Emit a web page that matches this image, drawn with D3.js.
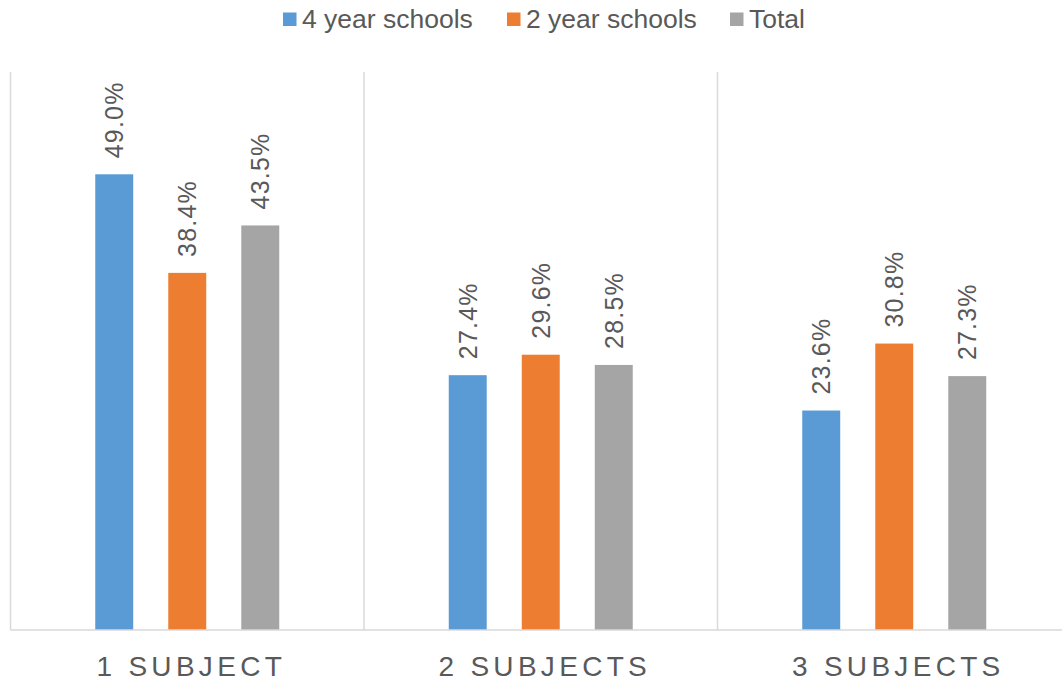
<!DOCTYPE html>
<html><head><meta charset="utf-8">
<script src="https://cdn.jsdelivr.net/npm/d3@7/dist/d3.min.js"></script>
<style>body{margin:0;background:#fff}svg{display:block}</style>
</head><body><svg id="c" width="1062" height="681"></svg>
<script>
const categories = ["1 SUBJECT", "2 SUBJECTS", "3 SUBJECTS"];
const seriesNames = ["4 year schools", "2 year schools", "Total"];
const fourYear = [0.490, 0.274, 0.236];
const twoYear = [0.384, 0.296, 0.308];
const total = [0.435, 0.285, 0.273];
const colors = ["#5b9bd5", "#ed7d31", "#a5a5a5"];

const svg = d3.select("#c");
const font = "'Liberation Sans', Arial, sans-serif";
const textColor = "#595959";
const plotLeft = 10.5, plotRight = 1071, plotTop = 72, plotBottom = 630;

const x0 = d3.scaleBand().domain(categories).range([plotLeft, plotRight]).paddingInner(0).paddingOuter(0);
const x1 = d3.scaleBand().domain(seriesNames).range([x0.bandwidth()/2 - 92, x0.bandwidth()/2 + 92]).paddingInner(0.48).paddingOuter(0);
const y = d3.scaleLinear().domain([0, 0.6]).range([plotBottom, plotTop]);

const seriesVals = [fourYear, twoYear, total];
const data = categories.map((c, i) => ({cat: c, vals: seriesNames.map((s, j) => ({s, v: seriesVals[j][i], j}))}));

const seps = categories.map(c => x0(c)).concat([plotRight]);
svg.selectAll(".sep").data(seps).enter().append("line")
  .attr("x1", d => d).attr("x2", d => d).attr("y1", plotTop).attr("y2", plotBottom)
  .attr("stroke", "#d9d9d9").attr("stroke-width", 1.5);

const g = svg.selectAll(".grp").data(data).enter().append("g").attr("transform", d => `translate(${x0(d.cat)},0)`);
g.selectAll("rect").data(d => d.vals).enter().append("rect")
  .attr("x", d => x1(d.s)).attr("width", x1.bandwidth())
  .attr("y", d => y(d.v)).attr("height", d => plotBottom - y(d.v))
  .attr("fill", d => colors[d.j]);
g.selectAll(".lbl").data(d => d.vals).enter().append("text")
  .attr("transform", d => `translate(${x1(d.s) + x1.bandwidth()/2 + 9},${y(d.v) - 16}) rotate(-90)`)
  .attr("font-family", font).attr("font-size", 25).attr("letter-spacing", 1.2).attr("fill", textColor)
  .text(d => (d.v*100).toFixed(1) + "%");

svg.append("line").attr("x1", plotLeft).attr("x2", plotRight).attr("y1", plotBottom).attr("y2", plotBottom)
  .attr("stroke", "#d9d9d9").attr("stroke-width", 1.5);

svg.selectAll(".cat").data(categories).enter().append("text")
  .attr("x", d => x0(d) + x0.bandwidth()/2 + 4).attr("y", 676)
  .attr("text-anchor", "middle").attr("font-family", font).attr("font-size", 28)
  .attr("letter-spacing", 4.3).attr("fill", textColor).text(d => d);

const legX = [283, 507, 730];
const lg = svg.selectAll(".leg").data(seriesNames).enter().append("g")
  .attr("transform", (d, i) => `translate(${legX[i]},0)`);
lg.append("rect").attr("x", 0).attr("y", 12.5).attr("width", 13.5).attr("height", 13.5).attr("fill", (d, i) => colors[i]);
lg.append("text").attr("x", 19).attr("y", 28).attr("font-family", font).attr("font-size", 26.5)
  .attr("fill", textColor).text(d => d);
</script></body></html>
